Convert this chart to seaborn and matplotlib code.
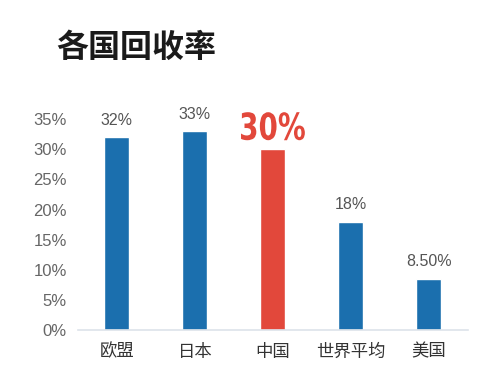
import matplotlib
matplotlib.use('Agg')
import matplotlib.pyplot as plt
import matplotlib.transforms as mtrans
from matplotlib.textpath import TextPath
from matplotlib.patches import PathPatch
from matplotlib.font_manager import FontProperties
import seaborn as sns
import pandas as pd

# ── Data ──────────────────────────────────────────────────
countries = ['欧盟', '日本', '中国', '世界平均', '美国']
rates = [32, 33, 30, 18, 8.5]
value_labels = ['32%', '33%', '30%', '18%', '8.50%']
colors = ['#1b6fae', '#1b6fae', '#e2483b', '#1b6fae', '#1b6fae']
y_ticks = [0, 5, 10, 15, 20, 25, 30, 35]

sns.set_style('white')
plt.rcParams['font.family'] = ['Noto Sans CJK SC', 'DejaVu Sans']

df = pd.DataFrame({'country': countries, 'rate': rates})

fig = plt.figure(figsize=(4.78, 3.82), dpi=100)
ax = fig.add_axes([0.163, 0.136, 0.816, 0.631])

sns.barplot(data=df, x='country', y='rate', hue='country', palette=colors,
            legend=False, width=0.32, saturation=1, ax=ax)

ax.set_ylim(0, 40)
ax.set_xlim(-0.5, 4.5)
ax.set_yticks(y_ticks)
ax.set_yticklabels([f'{t}%' for t in y_ticks], fontsize=12, color='#666666',
                   family=['Liberation Sans'])
ax.tick_params(axis='x', labelsize=12.5, colors='#333333', length=0, pad=9)
ax.tick_params(axis='y', length=0, pad=8)
ax.set_xlabel('')
ax.set_ylabel('')

for s in ['top', 'right', 'left']:
    ax.spines[s].set_visible(False)
ax.spines['bottom'].set_color('#dde3ea')
ax.spines['bottom'].set_linewidth(1.2)

# value labels; the highlighted one is drawn as a narrowed bold text path
for i, (v, lab) in enumerate(zip(rates, value_labels)):
    if countries[i] == '中国':
        tp = TextPath((0, 0), lab, size=26.7,
                      prop=FontProperties(family='DejaVu Sans', weight='bold'))
        ext = tp.get_extents()
        cx = (ext.x0 + ext.x1) / 2
        k = fig.dpi / 72
        tr = (mtrans.Affine2D().translate(-cx, -ext.y0).scale(0.75 * k, k)
              + mtrans.ScaledTranslation(i, v + 1.5, ax.transData))
        ax.add_patch(PathPatch(tp, transform=tr, facecolor='#e2483b',
                               edgecolor='none', clip_on=False))
    else:
        ax.text(i, v + 1.6, lab, ha='center', va='bottom', fontsize=11.5,
                color='#555555', family=['Liberation Sans'])

fig.text(0.118, 0.85, '各国回收率', fontsize=23, fontweight='black',
         color='#1a1a1a')

plt.savefig('out.png', dpi=100)
